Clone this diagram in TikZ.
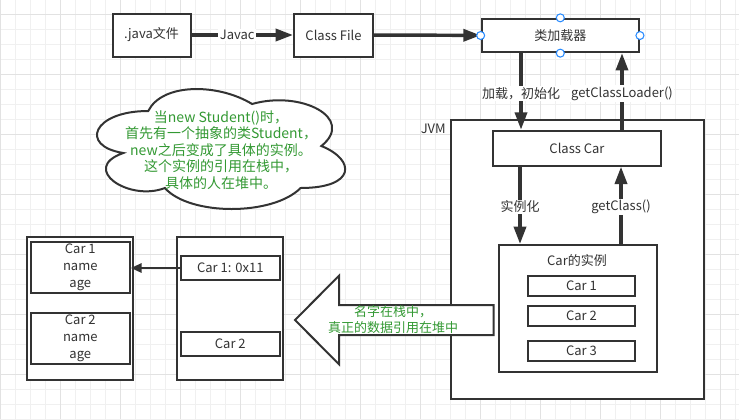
\documentclass[tikz,border=0pt]{standalone}
\usepackage{fontspec}
\setmainfont{Noto Sans CJK SC}
\usetikzlibrary{arrows.meta}
\definecolor{dk}{HTML}{333333}
\definecolor{gr}{HTML}{339933}
\definecolor{hb}{HTML}{2A8CFF}
\definecolor{gmin}{HTML}{F0F0F0}
\definecolor{gmaj}{HTML}{E2E2E2}
\newcommand\dfs{\fontsize{9.75}{11.5}\selectfont}
\newcommand\cfs{\fontsize{10.5}{12.4}\selectfont}
\newcommand\hfs{\fontsize{9.75}{12.5}\selectfont}
\begin{document}
\begin{tikzpicture}[x=0.75pt,y=-0.75pt,
  sz/.style 2 args={minimum width=#1*0.75pt,minimum height=#2*0.75pt},
  box/.style={draw=dk,line width=1.5pt,fill=white,inner sep=0pt,text=dk,font=\dfs,align=center},
  flow/.style={draw=dk,line width=2.6pt,-{Triangle[length=13pt,width=9pt]}},
  thinarrow/.style={draw=dk,line width=1.5pt,-{Triangle[length=8pt,width=7pt]}},
  lbl/.style={fill=white,text=dk,font=\dfs,inner sep=1pt},
  handle/.style={circle,draw=hb,fill=white,line width=0.8pt,minimum size=6pt,inner sep=0pt},
  greentext/.style={text=gr,font=\cfs,align=center,inner sep=0pt},
]
\useasboundingbox (0,0) rectangle (739,419);
\fill[white] (0,0) rectangle (739,419);
% grid
\foreach \i in {0,...,49} {\draw[gmin,line width=0.75pt] ({0.7+15*\i},0) -- ({0.7+15*\i},419);}
\foreach \j in {0,...,28} {\draw[gmin,line width=0.75pt] (0,{-0.7+15*\j}) -- (739,{-0.7+15*\j});}
\foreach \i in {0,...,12} {\draw[gmaj,line width=0.75pt] ({0.7+60*\i},0) -- ({0.7+60*\i},419);}
\foreach \j in {0,...,6} {\draw[gmaj,line width=0.75pt] (0,{14+60*\j}) -- (739,{14+60*\j});}

% cloud
\begin{scope}[shift={(79,76)},x=207.75pt,y=-105pt]
\draw[dk,line width=1.5pt,fill=white] (0.25,0.25) .. controls (0.05,0.25) and (0,0.5) .. (0.16,0.55)
  .. controls (0,0.66) and (0.18,0.9) .. (0.31,0.8)
  .. controls (0.4,1) and (0.7,1) .. (0.8,0.8)
  .. controls (1,0.8) and (1,0.6) .. (0.875,0.5)
  .. controls (1,0.3) and (0.8,0.1) .. (0.625,0.2)
  .. controls (0.5,0.05) and (0.3,0.05) .. (0.25,0.25) -- cycle;
\end{scope}
\node[greentext] (cloudtxt) at (221,150) {当new Student()时，\\首先有一个抽象的类Student，\\new之后变成了具体的实例。\\这个实例的引用在栈中，\\具体的人在堆中。};

% top row
\node[box,sz={78}{43}] (java) at (151.5,35) {.java文件};
\node[box,sz={79}{43}] (classfile) at (333.5,35) {Class File};
\node[box,sz={157.3}{33.3}] (loader) at (560.3,35.5) {类加载器};

% JVM
\node[box,sz={253}{279}] (jvm) at (577.5,259.5) {};
\node[text=dk,font=\dfs,anchor=east,inner sep=0pt] (jvmlbl) at (446,128.5) {JVM};
\node[box,sz={168}{35}] (classcar) at (577,148.2) {Class Car};
\node[box,sz={158.3}{127}] (inst) at (577.8,308.5) {};
\node[text=dk,font=\dfs,inner sep=0pt] (instlbl) at (577,261) {Car的实例};
\node[box,sz={107.6}{20}] (c1) at (581.5,286) {Car 1};
\node[box,sz={107.6}{20}] (c2) at (581.5,316) {Car 2};
\node[box,sz={107.6}{20}] (c3) at (581.5,351) {Car 3};

% heap and stack
\node[box,sz={106.6}{143}] (heap) at (80,308.5) {};
\node[box,sz={99.3}{51.3},font=\hfs] (h1) at (80.3,267.3) {Car 1\\name\\age};
\node[box,sz={99.3}{51.3},font=\hfs] (h2) at (80.3,338.3) {Car 2\\name\\age};
\node[box,sz={106.6}{143}] (stack) at (230,308.5) {};
\node[box,sz={99.3}{24}] (s1) at (230.3,268) {Car 1: 0x11};
\node[box,sz={99.3}{24.3}] (s2) at (230.3,343.8) {Car 2};

% big arrow
\draw[dk,line width=1.5pt,fill=white] (295,320) -- (339,275.7) -- (339,305) -- (493.7,305)
  -- (493.7,335) -- (339,335) -- (339,364.3) -- cycle;
\node[greentext,font=\fontsize{9.75}{12}\selectfont] (bigtxt) at (393,320) {名字在栈中，\\真正的数据引用在堆中};

% connectors
\coordinate (xa) at (521,0);
\coordinate (xb) at (622,0);
\coordinate (xc) at (520,0);
\coordinate (xd) at (621,0);
\draw[flow] (java) -- node[lbl,pos=0.45] {Javac} (classfile);
\draw[flow] (classfile) -- (loader);
\draw[flow] (xa |- loader.south) -- node[lbl,pos=0.53] {加载，初始化} (xa |- classcar.north);
\draw[flow] (xb |- classcar.north) -- node[lbl,pos=0.47] {getClassLoader()} (xb |- loader.south);
\draw[flow] (xc |- classcar.south) -- node[lbl,pos=0.52] {实例化} (xc |- inst.north);
\draw[flow] (xd |- inst.north) -- node[lbl,pos=0.48] {getClass()} (xd |- classcar.south);
\draw[thinarrow] (s1.west) -- (s1.west -| h1.east);

% handles
\node[handle] (hw) at (loader.west) {};
\node[handle] (he) at (loader.east) {};
\node[handle] (hn) at (loader.north) {};
\node[handle] (hs) at (loader.south) {};
\end{tikzpicture}
\end{document}
